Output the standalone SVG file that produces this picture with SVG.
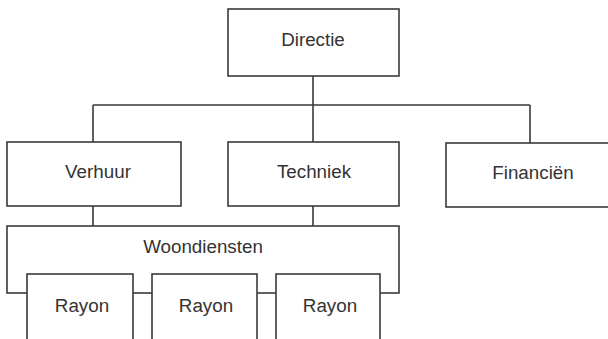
<svg xmlns="http://www.w3.org/2000/svg" width="608" height="339" viewBox="0 0 608 339">
<style>
.box{fill:#fff;stroke:#3a3a3a;stroke-width:1.6}
.lbl{font-family:"Liberation Sans",Arial,sans-serif;font-size:18.8px;fill:#333;text-anchor:middle}
.con{fill:none;stroke:#3a3a3a;stroke-width:1.6}
</style>
<rect width="608" height="339" fill="#fff"/>
<g id="connectors">
<path class="con" d="M313,76 V105 M93,105 H530 M93,105 V142 M313,105 V142 M530,105 V143 M93,206 V226 M313,206 V226"/>
</g>
<g id="directie"><rect class="box" x="228" y="9" width="171" height="67"/><text class="lbl" x="313" y="46">Directie</text></g>
<g id="verhuur"><rect class="box" x="7" y="142" width="174" height="64"/><text class="lbl" x="98" y="178">Verhuur</text></g>
<g id="techniek"><rect class="box" x="228" y="142" width="171" height="64"/><text class="lbl" x="314" y="178">Techniek</text></g>
<g id="financien"><rect class="box" x="446" y="143" width="170" height="64"/><text class="lbl" x="533" y="179">Financiën</text></g>
<g id="woondiensten"><rect class="box" x="7" y="226" width="392" height="67"/><text class="lbl" x="203" y="253">Woondiensten</text></g>
<g id="rayon1"><rect class="box" x="27" y="274" width="106" height="75"/><text class="lbl" x="82" y="312">Rayon</text></g>
<g id="rayon2"><rect class="box" x="152" y="274" width="105" height="75"/><text class="lbl" x="206" y="312">Rayon</text></g>
<g id="rayon3"><rect class="box" x="276" y="274" width="104" height="75"/><text class="lbl" x="330" y="312">Rayon</text></g>
</svg>
